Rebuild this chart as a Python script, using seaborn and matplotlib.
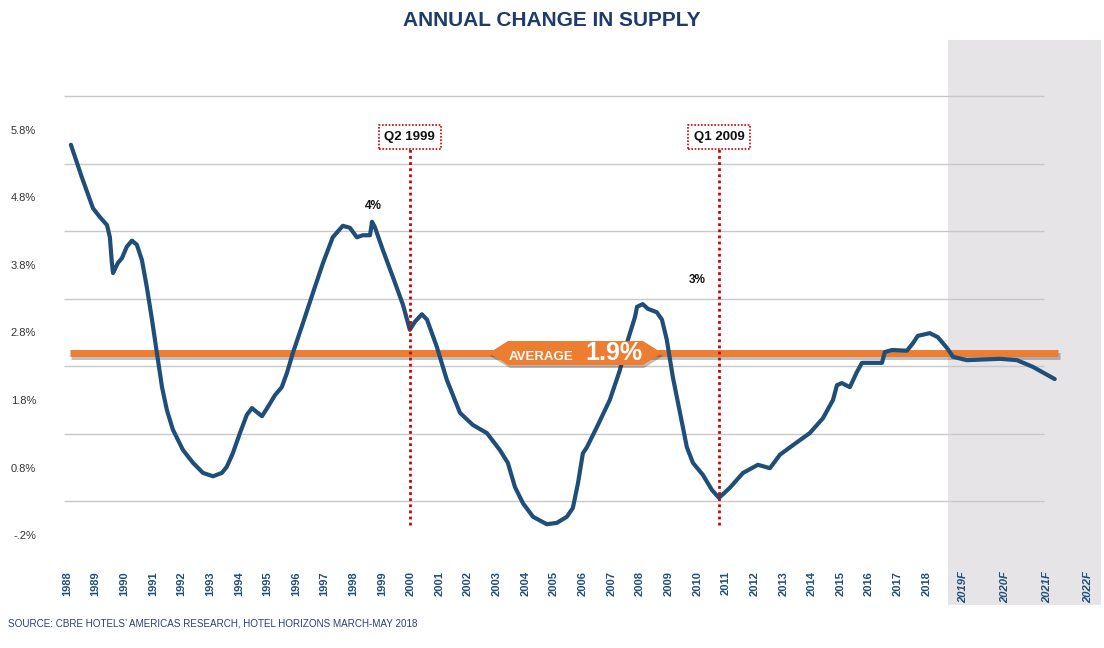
import numpy as np
import pandas as pd
import seaborn as sns
import matplotlib.pyplot as plt
import matplotlib.patheffects as pe
from matplotlib.path import Path
from matplotlib.offsetbox import TextArea, HPacker, AnnotationBbox

# supply change (x in axis years, y in axis units)
period = [
    1988.14, 1988.52, 1988.91, 1989.15, 1989.40, 1989.50, 1989.57, 1989.61, 1989.78, 1989.92,
    1990.09, 1990.27, 1990.44, 1990.62, 1990.79, 1990.97, 1991.14, 1991.32, 1991.49, 1991.70,
    1992.05, 1992.40, 1992.75, 1993.10, 1993.41, 1993.58, 1993.79, 1994.04, 1994.28, 1994.46,
    1994.63, 1994.81, 1995.02, 1995.26, 1995.36, 1995.50, 1995.68, 1995.89, 1996.24, 1996.59,
    1996.94, 1997.28, 1997.63, 1997.88, 1998.12, 1998.33, 1998.58, 1998.65, 1998.75, 1999.03,
    1999.38, 1999.73, 1999.97, 2000.15, 2000.39, 2000.57, 2000.91, 2001.26, 2001.72, 2002.17,
    2002.66, 2003.11, 2003.39, 2003.64, 2003.92, 2004.27, 2004.75, 2005.10, 2005.45, 2005.66,
    2005.84, 2006.01, 2006.15, 2006.50, 2006.95, 2007.30, 2007.58, 2007.83, 2007.90, 2008.10,
    2008.28, 2008.59, 2008.77, 2008.94, 2009.15, 2009.40, 2009.64, 2009.85, 2010.20, 2010.51,
    2010.76, 2011.14, 2011.60, 2012.12, 2012.54, 2012.89, 2013.34, 2013.93, 2014.39, 2014.74,
    2014.88, 2015.05, 2015.33, 2015.57, 2015.75, 2016.13, 2016.45, 2016.55, 2016.80, 2017.32,
    2017.53, 2017.70, 2018.12, 2018.40, 2018.72, 2018.93, 2019.41, 2020.57, 2021.16, 2021.72,
    2022.48,
]
supply = [
    5.58, 5.10, 4.64, 4.51, 4.39, 4.21, 3.83, 3.68, 3.83, 3.90,
    4.07, 4.16, 4.10, 3.87, 3.47, 2.99, 2.50, 1.99, 1.65, 1.36,
    1.06, 0.87, 0.72, 0.67, 0.72, 0.81, 1.01, 1.31, 1.58, 1.68,
    1.62, 1.56, 1.70, 1.87, 1.92, 1.99, 2.20, 2.50, 2.94, 3.39,
    3.83, 4.21, 4.38, 4.35, 4.21, 4.24, 4.24, 4.44, 4.36, 4.02,
    3.62, 3.21, 2.84, 2.96, 3.07, 2.99, 2.59, 2.10, 1.61, 1.43,
    1.31, 1.06, 0.87, 0.51, 0.27, 0.07, -0.04, -0.02, 0.07, 0.20,
    0.57, 1.01, 1.10, 1.40, 1.80, 2.24, 2.69, 3.03, 3.18, 3.22,
    3.15, 3.10, 2.99, 2.69, 2.14, 1.61, 1.10, 0.87, 0.69, 0.47,
    0.35, 0.50, 0.72, 0.84, 0.79, 0.99, 1.13, 1.31, 1.53, 1.80,
    2.02, 2.05, 1.99, 2.21, 2.35, 2.35, 2.35, 2.51, 2.54, 2.53,
    2.64, 2.75, 2.79, 2.73, 2.57, 2.44, 2.39, 2.41, 2.39, 2.29,
    2.11,
]

history_years = list(range(1988, 2019))
forecast_labels = ["2019F", "2020F", "2021F", "2022F"]
forecast_pos = [2019.3, 2020.75, 2022.2, 2023.65]

ytick_vals = [-0.2, 0.8, 1.8, 2.8, 3.8, 4.8, 5.8]
ytick_labels = ["-.2%", "0.8%", "1.8%", "2.8%", "3.8%", "4.8%", "5.8%"]
grid_levels = [0.3, 1.3, 2.3, 3.3, 4.3, 5.3, 6.3]

avg_level = 2.5
avg_text = "1.9%"
markers = [("Q2 1999", 1999.97), ("Q1 2009", 2010.76)]
peak_notes = [("4%", 1998.68, 4.67), ("3%", 2009.99, 3.58)]

NAVY = "#1f4e79"
ORANGE = "#ed7d31"
RED = "#d00000"

sns.set_style("white")
plt.rcParams["font.family"] = ["Liberation Sans", "DejaVu Sans"]

df = pd.DataFrame({"period": period, "supply": supply})

fig = plt.figure(figsize=(11.04, 6.48), dpi=100)
ax = fig.add_axes([50 / 1104, 1 - 560 / 648, 1054 / 1104, 530 / 648])
ax.set_xlim(1987.41, 2024.2)
ax.set_ylim(-0.57, 7.28)

# forecast shading, reaching down behind the tick labels
ax.axvspan(2018.77, 2024.1, ymin=-0.085, ymax=0.981, color="#e6e4e6",
           lw=0, zorder=0, clip_on=False)

ax.hlines(grid_levels, 1987.9, 2022.1, color="#c8c8c8", lw=1, zorder=1)

sns.lineplot(data=df, x="period", y="supply", color=NAVY, lw=3.0,
             estimator=None, sort=False, ax=ax, zorder=4,
             solid_joinstyle="round", solid_capstyle="round")

ax.hlines(avg_level, 1988.1, 2022.6, color=ORANGE, lw=5, zorder=3,
          path_effects=[pe.SimpleLineShadow(offset=(1, -2), alpha=0.25), pe.Normal()])

for label, x in markers:
    ax.vlines(x, -0.05, 5.52, color=RED, lw=2, ls=(0, (1, 1.2)), zorder=5)
    ax.text(x, 5.70, label, ha="center", va="center", fontsize=9.5,
            fontweight="bold", color="#111111", zorder=6,
            bbox=dict(boxstyle="square,pad=0.45", fc="white", ec=RED,
                      ls=(0, (1, 1)), lw=1.2))

for txt, x, y in peak_notes:
    ax.text(x, y, txt, ha="center", va="center", fontsize=8.5,
            fontweight="bold", color="#111111")


def banner(x0, y0, width, height, mutation_size):
    tip = height * 0.8
    verts = [(x0 - tip, y0 + height / 2), (x0, y0 + height), (x0 + width, y0 + height),
             (x0 + width + tip, y0 + height / 2), (x0 + width, y0), (x0, y0),
             (x0 - tip, y0 + height / 2)]
    return Path(verts, closed=True)


small = TextArea("AVERAGE", textprops=dict(color="white", fontsize=9.5, fontweight="bold"))
big = TextArea(avg_text, textprops=dict(color="white", fontsize=18, fontweight="bold"))
pack = HPacker(children=[small, big], align="baseline", pad=0, sep=9)
ab = AnnotationBbox(pack, (2005.75, avg_level), frameon=True, pad=0.3, zorder=7,
                    bboxprops=dict(boxstyle=banner, fc=ORANGE, ec="none"))
ax.add_artist(ab)
ab.patch.set_path_effects([pe.withSimplePatchShadow(offset=(1, -2), alpha=0.3)])

ax.set_xticks(history_years + forecast_pos)
ax.set_xticklabels([str(y) for y in history_years] + forecast_labels,
                   rotation=90, fontsize=8, fontweight="bold", color=NAVY)
for lab in ax.get_xticklabels()[len(history_years):]:
    lab.set_fontstyle("italic")
ax.set_yticks(ytick_vals)
ax.set_yticklabels(ytick_labels, fontsize=8, color="#333333")
ax.tick_params(axis="x", length=0, pad=8)
ax.tick_params(axis="y", length=0, pad=10)
ax.set_xlabel("")
ax.set_ylabel("")
sns.despine(ax=ax, left=True, bottom=True)

fig.text(0.5, 1 - 21 / 648, "ANNUAL CHANGE IN SUPPLY", ha="center", va="center",
         fontsize=15, fontweight="bold", color="#1d3b6b")
fig.text(8 / 1104, 1 - 624 / 648,
         "SOURCE: CBRE HOTELS\u2019 AMERICAS RESEARCH, HOTEL HORIZONS MARCH-MAY 2018",
         ha="left", va="center", fontsize=7.1, color="#2a3f7a")

fig.savefig("out.png", dpi=100)
